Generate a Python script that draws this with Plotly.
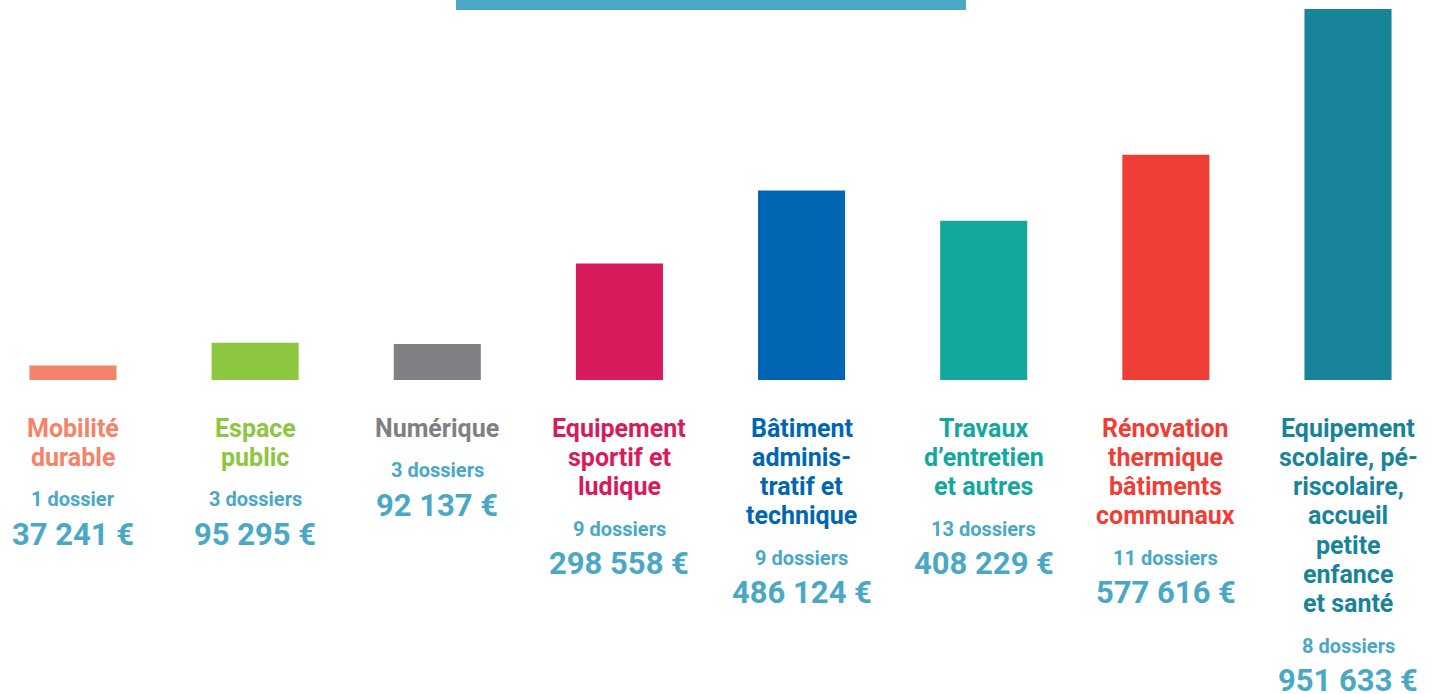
import plotly.graph_objects as go

# Data
categories = ["Mobilité durable", "Espace public", "Numérique", "Equipement sportif et ludique",
              "Bâtiment administratif et technique", "Travaux d'entretien et autres",
              "Rénovation thermique bâtiments communaux",
              "Equipement scolaire, périscolaire, accueil petite enfance et santé"]
label_lines = [
    ["Mobilité", "durable"],
    ["Espace", "public"],
    ["Numérique"],
    ["Equipement", "sportif et", "ludique"],
    ["Bâtiment", "adminis-", "tratif et", "technique"],
    ["Travaux", "d’entretien", "et autres"],
    ["Rénovation", "thermique", "bâtiments", "communaux"],
    ["Equipement", "scolaire, pé-", "riscolaire,", "accueil", "petite", "enfance", "et santé"],
]
amounts = [37241, 95295, 92137, 298558, 486124, 408229, 577616, 951633]
dossiers = ["1 dossier", "3 dossiers", "3 dossiers", "9 dossiers", "9 dossiers",
            "13 dossiers", "11 dossiers", "8 dossiers"]
value_labels = ["37 241 €", "95 295 €", "92 137 €", "298 558 €", "486 124 €",
                "408 229 €", "577 616 €", "951 633 €"]
colors = ["#f4836a", "#8dc63f", "#808084", "#d81b5c", "#0066b3", "#13a89e", "#ef3e36", "#178499"]
info_color = "#4aa8c5"

W, H = 1446, 694
base_px = 380          # baseline pixel row
top_px = 9             # top of the tallest bar
scale = (base_px - top_px) / max(amounts)   # pixels per euro
y_top = base_px / scale
y_bot = -(H - base_px) / scale

x0_px, step_px = 73, (1348 - 73) / 7
x_lo = -x0_px / step_px
x_hi = (W - x0_px) / step_px

def px_to_y(p):
    return (base_px - p) / scale

xs = list(range(len(categories)))
fig = go.Figure(go.Bar(x=xs, y=amounts, marker_color=colors, width=0.478,
                       marker_line_width=0, hoverinfo="skip"))

font_family = "Roboto"
ann = []
line_pitch = 29.3
for i, lines in enumerate(label_lines):
    y = 428
    for j, t in enumerate(lines):
        ann.append(dict(x=i, y=px_to_y(y + j * line_pitch), text=f"<b>{t}</b>", showarrow=False,
                        xanchor="center", yanchor="middle",
                        font=dict(family=font_family, size=25, color=colors[i])))
    last = y + (len(lines) - 1) * line_pitch
    ann.append(dict(x=i, y=px_to_y(last + 42), text=f"<b>{dossiers[i]}</b>", showarrow=False,
                    xanchor="center", yanchor="middle",
                    font=dict(family=font_family, size=20, color=info_color)))
    ann.append(dict(x=i, y=px_to_y(last + 77), text=f"<b>{value_labels[i]}</b>", showarrow=False,
                    xanchor="center", yanchor="middle",
                    font=dict(family=font_family, size=31, color=info_color)))

fig.update_layout(
    width=W, height=H, margin=dict(l=0, r=0, t=0, b=0),
    paper_bgcolor="white", plot_bgcolor="white",
    showlegend=False, annotations=ann,
    xaxis=dict(range=[x_lo, x_hi], visible=False, fixedrange=True),
    yaxis=dict(range=[y_bot, y_top], visible=False, fixedrange=True),
    shapes=[dict(type="rect", xref="paper", yref="paper",
                 x0=456 / W, x1=966 / W, y0=1 - 10 / H, y1=1,
                 fillcolor=info_color, line_width=0)],
)
fig.write_html("out.html")
